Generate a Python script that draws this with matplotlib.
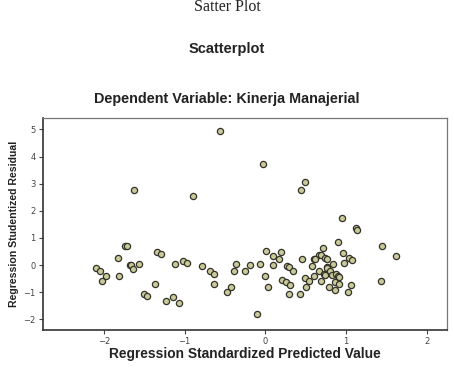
import numpy as np
from matplotlib import pyplot as plt

# predicted (standardized) vs studentized residual
pred = [-0.56, -1.63, -0.90, -1.74, -1.72, -1.83, -1.34, -1.29, -2.10, -2.05,
        -1.97, -2.02, -1.81, -1.68, -1.66, -1.64, -1.56, -1.50, -1.47, -1.37,
        -1.23, -1.15, -1.07, -1.12, -1.02, -0.97, -0.78, -0.69, -0.64, -0.63,
        -0.48, -0.43,
        -0.03, 0.49, 0.44, 0.95, 1.12, 1.14, 0.90, 1.45, 1.62, 0.72,
        0.01, 0.19, 0.10, 0.17, 0.45, 0.67, 0.69, 0.60, 0.62, 0.74,
        0.76, 0.96, 1.04, 1.08, 0.98, 0.84, -0.36, -0.39, -0.25, -0.19,
        -0.06, 0.10, 0.00, 0.04, 0.27, 0.29, 0.34, 0.58, 0.66, 0.60,
        0.76, 0.77, 0.73, 0.80, 0.83, 0.88, 0.90, 0.92, 0.74, 0.49,
        0.54, 0.69, 0.21, 0.26, 0.31, 0.50, 0.79, 0.87, 0.91, 0.86,
        1.06, 1.02, 1.43, 0.30, 0.43, -0.10]
resid = [4.95, 2.76, 2.56, 0.72, 0.69, 0.28, 0.50, 0.42, -0.10, -0.22,
         -0.39, -0.59, -0.39, 0.00, -0.01, -0.14, 0.04, -1.08, -1.12, -0.69,
         -1.31, -1.19, -1.39, 0.04, 0.15, 0.06, -0.02, -0.22, -0.32, -0.68,
         -1.00, -0.80,
         3.73, 3.08, 2.76, 1.73, 1.35, 1.31, 0.86, 0.70, 0.32, 0.63,
         0.52, 0.48, 0.33, 0.21, 0.23, 0.37, 0.38, 0.23, 0.21, 0.26,
         0.23, 0.43, 0.28, 0.17, 0.07, 0.04, 0.04, -0.23, -0.20, 0.01,
         0.04, 0.01, -0.41, -0.79, -0.04, -0.06, -0.20, -0.04, -0.21, -0.39,
         -0.06, -0.11, -0.31, -0.20, -0.37, -0.33, -0.39, -0.42, -0.38, -0.49,
         -0.58, -0.59, -0.55, -0.64, -0.72, -0.82, -0.81, -0.63, -0.71, -0.92,
         -0.72, -0.98, -0.57, -1.06, -1.06, -1.79]

xticks = [-2, -1, 0, 1, 2]
yticks = [-2, -1, 0, 1, 2, 3, 4, 5]

fig = plt.figure(figsize=(4.54, 3.72), dpi=100)
fig.patch.set_facecolor("white")

fig.text(0.5, 1 - 11/372, "Satter Plot", ha="center", va="baseline",
         family="Liberation Serif", fontsize=11.5, color="#222222")
fig.text(0.5, 1 - 49/372, "Scatterplot", ha="center", va="center",
         family="Liberation Sans", fontweight="bold", fontsize=10.5, color="#222222")
fig.text(0.5, 1 - 99/372, "Dependent Variable: Kinerja Manajerial", ha="center",
         va="center", family="Liberation Sans", fontweight="bold", fontsize=10.4,
         color="#222222")

ax = fig.add_axes([0.094, 0.113, 0.89, 0.569])
ax.scatter(pred, resid, s=20, facecolor="#c9c99a", edgecolor="#33332a",
           linewidth=0.9, zorder=3)

ax.set_xlim(-2.76, 2.25)
ax.set_ylim(-2.39, 5.41)
ax.set_xticks(xticks)
ax.set_yticks(yticks)
ax.tick_params(direction="out", length=3, width=0.8, labelsize=6,
               colors="#444444", pad=2)
for side in ["left", "bottom"]:
    ax.spines[side].set_linewidth(1.2)
    ax.spines[side].set_color("#333333")
for side in ["top", "right"]:
    ax.spines[side].set_linewidth(0.9)
    ax.spines[side].set_color("#777777")

ax.set_xlabel("Regression Standardized Predicted Value", family="Liberation Sans",
              fontweight="bold", fontsize=9.9, color="#222222", labelpad=1)
ax.set_ylabel("Regression Studentized Residual", family="Liberation Sans",
              fontweight="bold", fontsize=7.6, color="#222222", labelpad=3)

plt.savefig("out.png", dpi=100)
